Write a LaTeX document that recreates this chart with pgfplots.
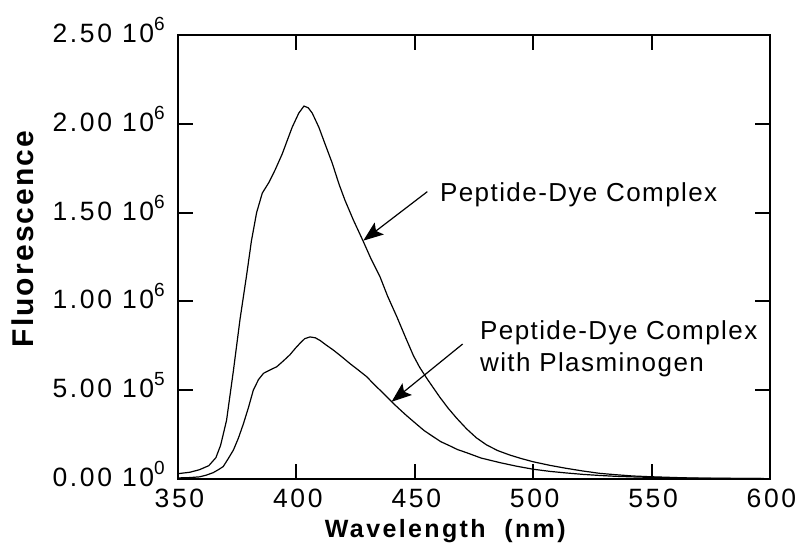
\documentclass[border=0pt]{standalone}
\usepackage{fontspec}
\setmainfont{Liberation Sans}
\usepackage{pgfplots}
\pgfplotsset{compat=1.18}
\usetikzlibrary{arrows.meta}
\newfontfamily\tickfont[LetterSpace=10]{Liberation Sans}
\newfontfamily\annfont[LetterSpace=5.5]{Liberation Sans}
\newfontfamily\xlabfont[LetterSpace=9.5]{Liberation Sans}
\newfontfamily\ylabfont[LetterSpace=7]{Liberation Sans}
\newcommand\expo[1]{\raisebox{12bp}{\fontsize{19bp}{19bp}\selectfont #1}}
\begin{document}
\begin{tikzpicture}
\begin{axis}[
  at={(0,0)}, anchor=south west,
  scale only axis, width=592bp, height=444bp,
  xmin=350, xmax=600, ymin=0, ymax=2500000,
  xtick={350,400,450,500,550,600},
  xticklabels={350,400,450,500,550,600},
  ytick={0,500000,1000000,1500000,2000000,2500000},
  yticklabels={0.00 10\expo{0},5.00 10\expo{5},1.00 10\expo{6},1.50 10\expo{6},2.00 10\expo{6},2.50 10\expo{6}},
  scaled ticks=false,
  tick align=inside,
  major tick length=15bp,
  tick style={line width=2bp, black},
  axis line style={line width=2.5bp},
  xticklabel style={font=\tickfont\fontsize{26.5bp}{30bp}\selectfont, anchor=base, inner sep=0pt, xshift=1.5bp, yshift=-28bp},
  yticklabel style={font=\tickfont\fontsize{26.5bp}{30bp}\selectfont, anchor=base east, inner sep=0pt, xshift=-13bp, yshift=-7.5bp},
  xlabel={Wavelength\ \ (nm)},
  xlabel style={at={(axis description cs:0.4515,-0.1322)}, anchor=base, inner sep=0pt, font=\xlabfont\bfseries\fontsize{25bp}{30bp}\selectfont},
  ylabel={Fluorescence},
  ylabel style={at={(axis description cs:-0.2449,0.5405)}, anchor=base, inner sep=0pt, font=\ylabfont\bfseries\fontsize{30bp}{34bp}\selectfont},
  clip=false,
]
% Peptide-Dye Complex
\addplot[black, line width=1.2bp] coordinates {
(350,30000) (355,38000) (359,52000) (363,75000) (366,120000) (368,190000)
(370.5,330000) (373.4,610000) (376.2,900000) (379,1150000) (381,1340000)
(383.2,1500000) (385.6,1610000) (388.4,1670000) (391,1740000) (394,1830000)
(398.2,1980000) (401,2060000) (403.2,2100000) (405,2090000) (406.7,2060000)
(409.5,1980000) (412,1890000) (415.1,1780000) (418,1660000) (420.5,1570000)
(424,1460000) (428.3,1336000) (431.5,1240000) (435.3,1139000) (438.5,1030000)
(442.4,914000) (446,800000) (449.4,695000) (452,630000) (455,568000)
(458,510000) (460.6,460000) (464,400000) (467.7,342000) (471.9,282000)
(476,232000) (480.3,192000) (485,160000) (490.1,135000) (495,115000)
(500,97000) (507,77000) (514,60000) (521,45000) (528,32000) (535,24000)
(542,17000) (549,13000) (556,10000) (563,7000) (570,5000) (580,4000)
(590,3000) (600,2000)
};
% Peptide-Dye Complex with Plasminogen
\addplot[black, line width=1.2bp] coordinates {
(350,6000) (355,8000) (359,12000) (362,22000) (364.9,36000) (367,52000)
(369.1,70000) (371,110000) (373.4,163000) (375.5,230000) (377.6,310000)
(379.7,400000) (381.8,500000) (384,560000) (386.1,595000) (389,615000)
(391.7,632000) (394.5,665000) (397.3,700000) (399.5,735000) (401.5,764000)
(403.5,790000) (405.7,800000) (408,795000) (410,780000) (412.5,755000)
(415.6,726000) (419,690000) (422.6,650000) (426,615000) (429.7,576000)
(433,530000) (436.7,483000) (440.9,426000) (443.8,390000) (446.6,356000)
(450.8,308000) (454,272000) (457.8,238000) (461,210000) (464.9,186000)
(468,166000) (471.9,148000) (478,118000) (486,92000) (493,72000)
(500,55000) (507,43000) (514,34000) (521,26000) (528,20000) (535,15000)
(542,12000) (550,9000) (560,6000) (570,4000) (585,3000) (600,2000)
};
\node[anchor=base west, inner sep=0pt, font=\annfont\fontsize{26bp}{30bp}\selectfont] at (axis cs:460.6,1561000) {Peptide-Dye Complex};
\node[anchor=base west, inner sep=0pt, font=\annfont\fontsize{26bp}{30bp}\selectfont] at (axis cs:477.5,783000) {Peptide-Dye Complex};
\node[anchor=base west, inner sep=0pt, font=\annfont\fontsize{26bp}{30bp}\selectfont] at (axis cs:477.5,604000) {with Plasminogen};
\draw[line width=1.2bp, -{Stealth[length=20bp,width=15bp,inset=4bp]}] (axis cs:455.3,1618000) -- (axis cs:428.25,1342000);
\draw[line width=1.2bp, -{Stealth[length=20bp,width=15bp,inset=4bp]}] (axis cs:470.2,760000) -- (axis cs:440.2,435000);
\end{axis}
\pgfresetboundingbox
\path (-178bp,-65bp) rectangle (622bp,479bp);
\end{tikzpicture}
\end{document}
